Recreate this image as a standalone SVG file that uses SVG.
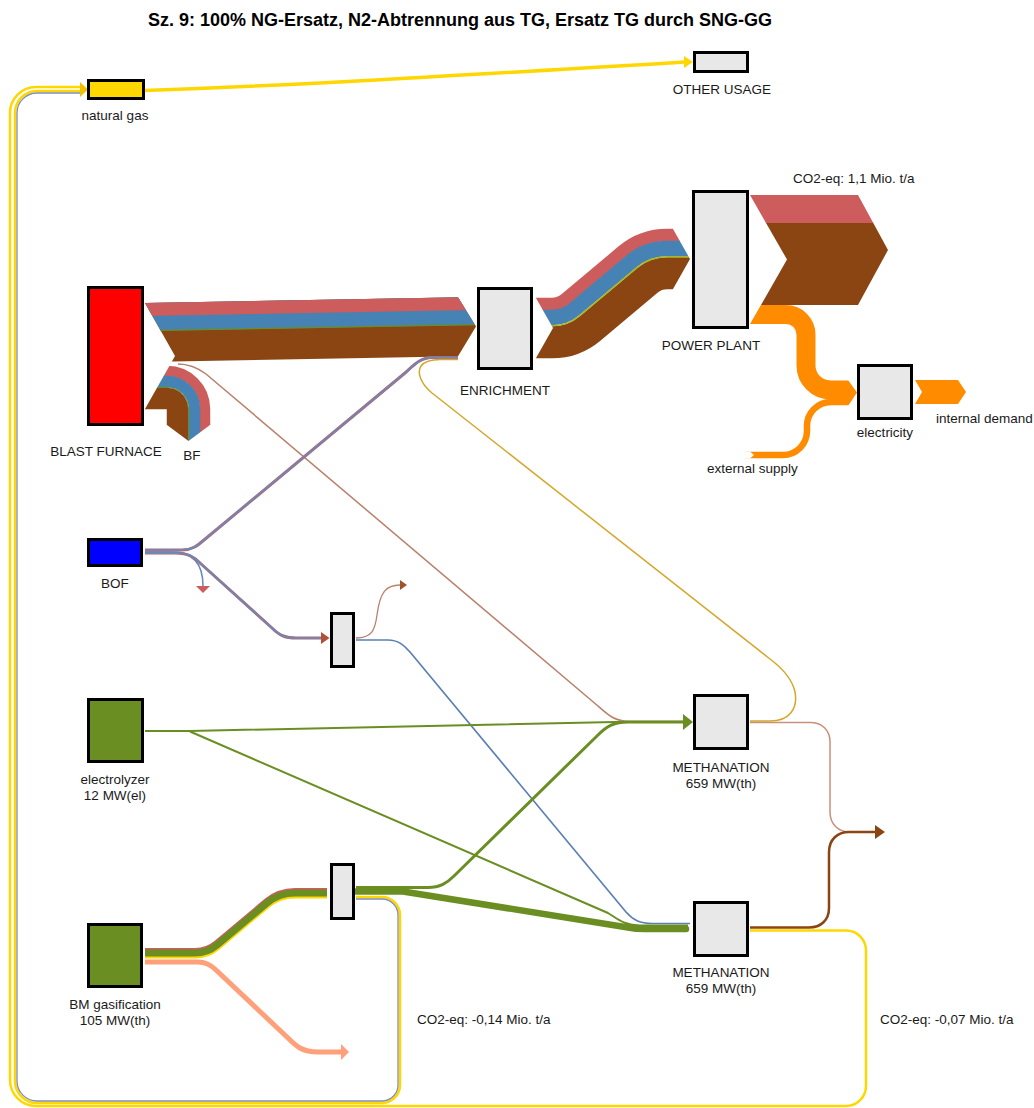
<svg xmlns="http://www.w3.org/2000/svg" width="1034" height="1108" viewBox="0 0 1034 1108">
<defs>
<style>
.box{fill:#e8e8e8;stroke:#000;stroke-width:3}
.ng{fill:#FFD700}
.bfc{fill:#FF0000}
.bofc{fill:#0000FF}
.gc{fill:#6B8E23}
.t{font-family:"Liberation Sans",Arial,Helvetica,sans-serif;font-size:13.5px;fill:#1a1a1a;text-anchor:middle}
.ts{text-anchor:start}
.title{font-family:"Liberation Sans",Arial,Helvetica,sans-serif;font-size:18px;font-weight:bold;fill:#000;text-anchor:middle}
.f{fill:none;stroke-linejoin:round}
.red{stroke:#CD5C5C}
.blue{stroke:#4682B4}
.brn{stroke:#8B4513}
.grn{stroke:#6B8E23}
.org{stroke:#FF8C00}
.yel{stroke:#FFD700}
.ygr{stroke:#A8B820}
.slate{stroke:#7F8DB5}
.rose{stroke:#B9806C}
.sal{stroke:#FFA07A}
</style>
<clipPath id="cMain"><path d="M145,290 L458,290 L458,297.3 L476,326.5 L458,356.3 L458,380 L171.6,380 L171.6,362 L175,356 L145,303 Z"/></clipPath>
<clipPath id="cBF"><path d="M175,356 L232,356 L232,425 L210,425 L188.5,441 L167,425 L145,425 L145,409 Z"/></clipPath>
<clipPath id="cEP"><path d="M536,298 L536,200 L673,200 L673,229 L690,259 L673,289 L673,400 L536,400 L536,358 L553,328 Z"/></clipPath>
<clipPath id="cPP"><path d="M750,195 L858,195 L888,250 L858,305 L761,305 L787,259.5 Z"/></clipPath>
<clipPath id="cOr"><path d="M763.8,300 L848,300 L848,380 L857,392.5 L848,406 L848,480 L740,480 L740,458.5 L750,458.5 L754,455 L750,451.5 L740,451.5 L740,324 L750,324 Z"/></clipPath>
</defs>
<rect x="0" y="0" width="1034" height="1108" fill="#ffffff"/>
<text class="title" x="460" y="26">Sz. 9: 100% NG-Ersatz, N2-Abtrennung aus TG, Ersatz TG durch SNG-GG</text>

<g id="connectors">
  <!-- BF -> ENRICHMENT -->
  <g clip-path="url(#cMain)">
    <polygon points="140,303.1 480,296.9 480,355.9 140,362.1" fill="#8B4513"/>
    <polygon points="140,303.1 480,296.9 480,324.9 140,331.1" fill="#4682B4"/>
    <polygon points="140,303.1 480,296.9 480,309.9 140,316.1" fill="#CD5C5C"/>
    <polygon points="140,330.1 480,323.9 480,325.1 140,331.3" fill="#6B8E23"/>
  </g>
  <!-- BF internal (down) -->
  <g clip-path="url(#cBF)">
    <path class="f red" stroke-width="10.5" d="M140,371 H167 A38,38 0 0 1 205,409 V445"/>
    <path class="f blue" stroke-width="11.5" d="M140,381.5 H167 A27.5,27.5 0 0 1 194.5,409 V445"/>
    <path class="f brn" stroke-width="21.5" d="M140,398.5 H167 A10.5,10.5 0 0 1 177.5,409 V445"/>
    <path class="f grn" stroke-width="1" d="M140,387.5 H167 A21.5,21.5 0 0 1 188.5,409 V445"/>
  </g>
  <!-- ENRICHMENT -> POWER PLANT -->
  <g clip-path="url(#cEP)">
    <path class="f red" stroke-width="12.5" d="M530,304 H552 A21,21 0 0 0 565.5,299.09 L622.63,251.15 A69,69 0 0 1 667,235 H695"/>
    <path class="f blue" stroke-width="15.5" d="M530,317.5 H552 A34.5,34.5 0 0 0 574.18,309.43 L631.31,261.49 A55.5,55.5 0 0 1 667,248.5 H695"/>
    <path class="f brn" stroke-width="32" d="M530,342.25 H552 A59.25,59.25 0 0 0 590.1,328.39 L647.23,280.45 A30.75,30.75 0 0 1 667,273.25 H695"/>
    <path class="f ygr" stroke-width="1.6" d="M530,325.75 H552 A42.75,42.75 0 0 0 579.49,315.75 L636.62,267.81 A47.25,47.25 0 0 1 667,256.75 H695"/>
  </g>
  <!-- POWER PLANT -> CO2 output -->
  <g clip-path="url(#cPP)">
    <rect x="745" y="222.5" width="150" height="83" fill="#8B4513"/>
    <rect x="745" y="195" width="150" height="28" fill="#CD5C5C"/>
  </g>
  <!-- electricity flows -->
  <g clip-path="url(#cOr)">
    <path class="f org" stroke-width="19" d="M745,314.5 H786 A20,20 0 0 1 806,334.5 V365.5 A24.5,24.5 0 0 0 830.5,390 H860"/>
    <path class="f org" stroke-width="6.5" d="M745,455 H783 A24,24 0 0 0 807,431 V426 A24,24 0 0 1 831,402 H860"/>
  </g>
  <polygon points="915,380 958,380 966,392 958,404 915,404 922,392" fill="#FF8C00"/>

  <!-- natural gas -> OTHER USAGE -->
  <path class="f yel" stroke-width="3.5" d="M145,90.5 C300,85 450,76 685,62"/>
  <polygon points="684,56 693,62 684,68" fill="#FFD700"/>

  <!-- return loops to natural gas -->
  <path class="f yel" stroke-width="2.5" d="M750,930.5 H846 A20,20 0 0 1 866,950.5 V1086 A20,20 0 0 1 846,1106 H36 A26,26 0 0 1 10,1080 V113 A26,26 0 0 1 36,87 H82"/>
  <path class="f yel" stroke-width="2.5" d="M356,897 H382 A18,18 0 0 1 400,915 V1085 A18,18 0 0 1 382,1103 H37 A22,22 0 0 1 15,1081 V113 A22,22 0 0 1 37,91 H82"/>
  <path class="f slate" stroke-width="1.3" d="M356,899 H382 A16,16 0 0 1 398,915 V1085 A16,16 0 0 1 382,1101 H37 A20,20 0 0 1 17,1081 V113 A20,20 0 0 1 37,93 H82"/>
  <polygon points="80,82 88,89.5 80,97" fill="#F2C200"/>

  <!-- BF -> METHANATION 1 -->
  <path class="f rose" stroke-width="1.5" d="M178,364 C190,364 198,368 206,374 L598,706 C608,715 615,721.5 630,721.5 H686"/>

  <!-- BOF outputs -->
  <g>
    <path class="f red" stroke-width="3" d="M145,550 H182 C192,550 197,546 204,540 L405,373 C413,366 420,357.5 432,357.5 H458"/>
    <path class="f" stroke="#6A88B8" stroke-width="2" d="M145,550 H182 C192,550 197,546 204,540 L405,373 C413,366 420,357.5 432,357.5 H458"/>
    <path class="f" stroke="#6A88B8" stroke-width="1.5" d="M145,552 H172 C192,552 203,562 203,586"/>
    <polygon points="196,586 210,586 203,593" fill="#CD5C5C"/>
    <path class="f red" stroke-width="3" d="M145,553 H176 C188,553 194,557 200,563 L272,628 C280,636 286,638 296,638 H322"/>
    <path class="f" stroke="#6A88B8" stroke-width="2" d="M145,553 H176 C188,553 194,557 200,563 L272,628 C280,636 286,638 296,638 H322"/>
    <polygon points="321,632 329.5,638 321,644" fill="#B0503A"/>
  </g>

  <!-- small node 1 outputs -->
  <path class="f rose" stroke-width="1.3" d="M356,638 C372,638 375,630 377,615 C380,592 386,585 400,585"/>
  <polygon points="400,580 407,585 400,590" fill="#A0522D"/>
  <path class="f" stroke="#5B7FB5" stroke-width="1.7" d="M356,640 H388 C398,640 404,645 410,652 L626,912 C633,920 640,923.5 652,923.5 H690"/>

  <!-- ENRICHMENT return from METHANATION 1 -->
  <path class="f" stroke="#D4A62A" stroke-width="1.5" d="M750,721 H770 C790,721 798,708 795,692 C792,678 782,668 770,659 L432,393 C420,383 417,372 421,366 C425,361 432,359.5 440,359.5 H458"/>

  <!-- electrolyzer outputs -->
  <path class="f grn" stroke-width="2" d="M145,731 H190 L615,722 H686"/>
  <path class="f grn" stroke-width="2" d="M190,731.5 L608,913 C618,919 624,925.5 640,925.5 H688"/>

  <!-- BM gasification outputs -->
  <path class="f red" stroke-width="7" transform="translate(0,-1.5)" d="M145,953 H195 C205,953 211,950 217,945 L267,903 C273,898 281,893 295,893 H327"/>
  <path class="f yel" stroke-width="7" transform="translate(0,2)" d="M145,953 H195 C205,953 211,950 217,945 L267,903 C273,898 281,893 295,893 H327"/>
  <path class="f grn" stroke-width="7" d="M145,953 H195 C205,953 211,950 217,945 L267,903 C273,898 281,893 295,893 H327"/>
  <path class="f sal" stroke-width="5" d="M145,962 H198 C206,962 211,965 216,970 L288,1038 C296,1046 302,1052 318,1052 H342"/>
  <polygon points="341,1044 349,1052 341,1060" fill="#FFA07A"/>

  <!-- small node 2 outputs -->
  <path class="f grn" stroke-width="3" d="M356,887.5 H428 C440,887.5 447,883 454,876 L598,735 C607,726 614,722 628,722 H686"/>
  <path class="f grn" stroke-width="6.5" stroke-linecap="round" d="M356,891.5 H403 L628,927.5 C633,928.5 636,929 645,929 H686"/>
  <polygon points="683,714 693,722 683,730" fill="#6B8E23"/>

  <!-- METHANATION outputs -->
  <path class="f" stroke="#C8907A" stroke-width="1.5" d="M750,722.5 H810 C822,722.5 830,730 830,742 V812 C830,824 838,832 850,832 H876"/>
  <path class="f brn" stroke-width="2.5" d="M750,927.5 H809 C821,927.5 829,920 829,908 V852 C829,840 837,832 849,832 H876"/>
  <polygon points="875,825 885,832 875,839" fill="#8B4513"/>
</g>

<g id="natural-gas"><rect class="box ng" x="88.5" y="80.5" width="55" height="18"/><text class="t" x="115" y="120">natural gas</text></g>
<g id="other-usage"><rect class="box" x="694.5" y="52.5" width="53" height="19"/><text class="t" x="722" y="94">OTHER USAGE</text></g>
<g id="blast-furnace"><rect class="box bfc" x="88.5" y="287.5" width="54" height="137"/><text class="t" x="106" y="456">BLAST FURNACE</text></g>
<g id="bf-label"><text class="t" x="192" y="460">BF</text></g>
<g id="enrichment"><rect class="box" x="478.5" y="288.5" width="53" height="80"/><text class="t" x="505" y="395">ENRICHMENT</text></g>
<g id="power-plant"><rect class="box" x="693.5" y="191.5" width="54" height="136"/><text class="t" x="711" y="350">POWER PLANT</text></g>
<g id="co2-pp"><text class="t ts" x="793" y="183">CO2-eq: 1,1 Mio. t/a</text></g>
<g id="electricity"><rect class="box" x="858.5" y="365.5" width="53" height="53"/><text class="t" x="885" y="437">electricity</text></g>
<g id="internal-demand"><text class="t ts" x="936" y="423">internal demand</text></g>
<g id="external-supply"><text class="t ts" x="707" y="473">external supply</text></g>
<g id="bof"><rect class="box bofc" x="88.5" y="539.5" width="53" height="26"/><text class="t" x="115" y="588">BOF</text></g>
<g id="node-split1"><rect class="box" x="331.5" y="613.5" width="22" height="53"/></g>
<g id="electrolyzer"><rect class="box gc" x="88.5" y="699.5" width="54" height="62"/><text class="t" x="115" y="784">electrolyzer</text><text class="t" x="115" y="800">12 MW(el)</text></g>
<g id="methanation-1"><rect class="box" x="694.5" y="695.5" width="53" height="53"/><text class="t" x="721" y="772">METHANATION</text><text class="t" x="721" y="788">659 MW(th)</text></g>
<g id="node-split2"><rect class="box" x="331.5" y="864.5" width="22" height="54"/></g>
<g id="methanation-2"><rect class="box" x="694.5" y="902.5" width="53" height="53"/><text class="t" x="721" y="977">METHANATION</text><text class="t" x="721" y="993">659 MW(th)</text></g>
<g id="bm-gasification"><rect class="box gc" x="88.5" y="924.5" width="53" height="62"/><text class="t" x="115" y="1009">BM gasification</text><text class="t" x="115" y="1025">105 MW(th)</text></g>
<g id="co2-bm"><text class="t ts" x="417" y="1024">CO2-eq: -0,14 Mio. t/a</text></g>
<g id="co2-meth"><text class="t ts" x="880" y="1024">CO2-eq: -0,07 Mio. t/a</text></g>
</svg>
